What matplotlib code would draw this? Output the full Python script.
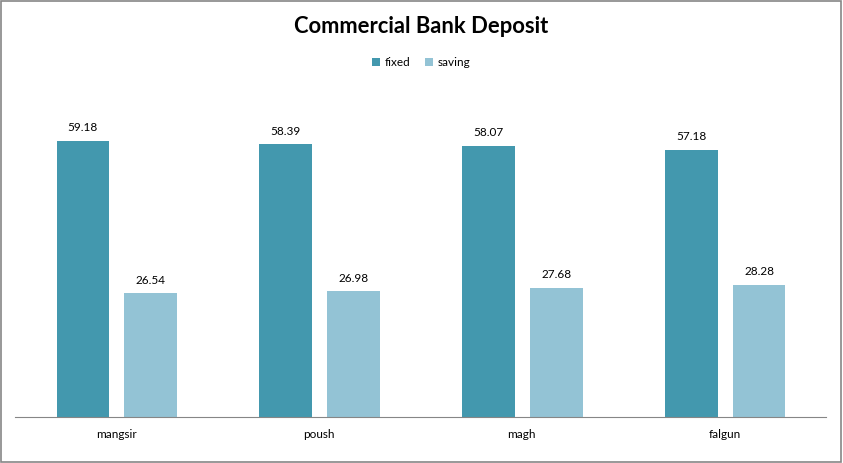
import numpy as np
import matplotlib.pyplot as plt
from matplotlib.patches import Rectangle

months = ["mangsir", "poush", "magh", "falgun"]
fixed = [59.18, 58.39, 58.07, 57.18]
saving = [26.54, 26.98, 27.68, 28.28]

plt.rcParams['font.family'] = ['Lato', 'DejaVu Sans']

fig = plt.figure(figsize=(8.43, 4.63), dpi=100)
ax = fig.add_axes([0.0178, 0.0994, 0.962, 0.706])

x = np.arange(len(months))
w = 0.26
b1 = ax.bar(x - 0.165, fixed, w, color='#4398ae', label='fixed')
b2 = ax.bar(x + 0.17, saving, w, color='#93c3d5', label='saving')

for bars, vals in [(b1, fixed), (b2, saving)]:
    for r, v in zip(bars, vals):
        ax.text(r.get_x() + r.get_width() / 2, v + 1.6, f"{v:.2f}",
                ha='center', va='bottom', fontsize=8.5)

ax.set_xlim(-0.5, len(months) - 0.5)
ax.set_ylim(0, 70)
ax.set_xticks(x)
ax.set_xticklabels(months, fontsize=8.5)
ax.tick_params(axis='x', length=0, pad=9)
ax.set_yticks([])
for s in ['top', 'right', 'left']:
    ax.spines[s].set_visible(False)
ax.spines['bottom'].set_color('#868686')

fig.text(0.5, 0.942, "Commercial Bank Deposit", ha='center', va='center',
         fontsize=15.8, fontweight='bold')
fig.legend(loc='center', bbox_to_anchor=(0.5, 0.864), ncol=2, frameon=False,
           fontsize=8.5, handlelength=0.7, handleheight=0.7, handletextpad=0.4,
           columnspacing=1.2)

fig.patches.append(Rectangle((0.001, 0.002), 0.997, 0.995, transform=fig.transFigure,
                             fill=False, edgecolor='#868686', linewidth=1.2))

fig.savefig("out.png", dpi=100)
